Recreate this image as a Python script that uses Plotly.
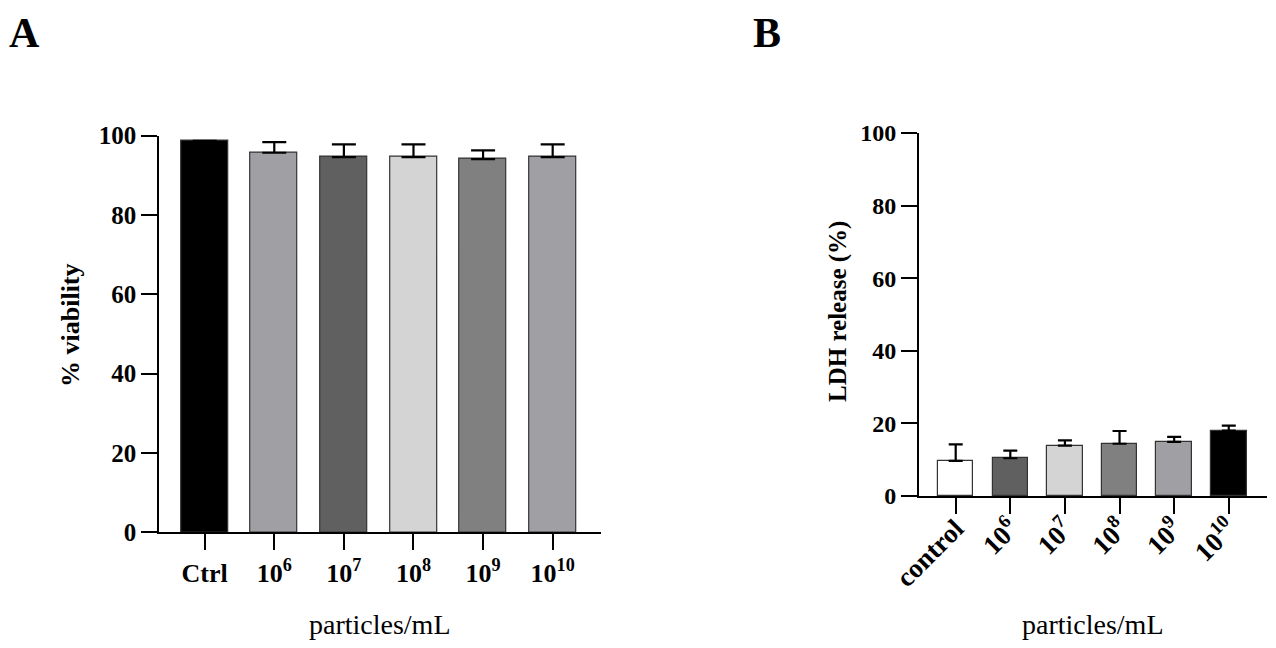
import plotly.graph_objects as go

# panel A: cell viability
categories_a = ["Ctrl", "10<sup>6</sup>", "10<sup>7</sup>", "10<sup>8</sup>", "10<sup>9</sup>", "10<sup>10</sup>"]
viability = [98.7, 95.7, 94.6, 94.6, 94.1, 94.6]
viability_err = [0, 2.7, 3.2, 3.2, 2.2, 3.2]
colors_a = ["#000000", "#a0a0a4", "#606060", "#d4d4d4", "#808080", "#a0a0a4"]

# panel B: LDH release
categories_b = ["control", "10<sup>6</sup>", "10<sup>7</sup>", "10<sup>8</sup>", "10<sup>9</sup>", "10<sup>10</sup>"]
ldh = [9.7, 10.4, 13.9, 14.4, 14.9, 18.0]
ldh_err = [4.5, 2.1, 1.4, 3.5, 1.4, 1.4]
colors_b = ["#ffffff", "#606060", "#d4d4d4", "#808080", "#a0a0a4", "#000000"]

SERIF = "Liberation Serif"
# the page body has an 8px margin, so the figure is a bit smaller than the window
OFF = 8
W, H = 1276 - 2 * OFF, 648 - 2 * OFF

def px_x(v):
    return (v - OFF) / W

def px_y(v):
    return 1 - (v - OFF) / H

fig = go.Figure()

fig.add_trace(go.Bar(
    x=categories_a, y=viability, xaxis="x", yaxis="y",
    width=0.675,
    marker=dict(color=colors_a, line=dict(color="#333333", width=1.2)),
    error_y=dict(type="data", array=viability_err, arrayminus=[0] * 6,
                 symmetric=False, color="black", thickness=2.2, width=12),
    showlegend=False,
))

fig.add_trace(go.Bar(
    x=categories_b, y=ldh, xaxis="x2", yaxis="y2",
    width=0.65,
    marker=dict(color=colors_b, line=dict(color="#333333", width=1.2)),
    error_y=dict(type="data", array=ldh_err, arrayminus=[0] * 6,
                 symmetric=False, color="black", thickness=2.2, width=7),
    showlegend=False,
))

axis_common = dict(
    showline=True, linecolor="black", linewidth=2,
    ticks="outside", ticklen=16, tickwidth=2, tickcolor="black",
    showgrid=False, zeroline=False, automargin=False,
)

fig.update_layout(
    template="none",
    width=W, height=H,
    margin=dict(l=0, r=0, t=0, b=0, pad=0, autoexpand=False),
    plot_bgcolor="white", paper_bgcolor="white",
    bargap=0,
    xaxis=dict(
        **axis_common,
        domain=[px_x(159.3), px_x(600.7)],
        anchor="y", type="category",
        range=[-0.652, 5.69],
        tickfont=dict(family=SERIF, size=26, color="black", weight="bold"),
    ),
    yaxis=dict(
        **axis_common,
        domain=[px_y(532.3), px_y(135.7)],
        anchor="x",
        range=[0, 100], tickvals=[0, 20, 40, 60, 80, 100],
        tickfont=dict(family=SERIF, size=25, color="black", weight="bold"),
    ),
    xaxis2=dict(
        **axis_common,
        domain=[px_x(919), px_x(1267)],
        anchor="y2", type="category",
        range=[-0.672, 5.70],
        tickangle=-45,
        ticklabelstandoff=-12,
        tickfont=dict(family=SERIF, size=27, color="black", weight="bold"),
    ),
    yaxis2=dict(
        **axis_common,
        domain=[px_y(496), px_y(133)],
        anchor="x2",
        range=[0, 100], tickvals=[0, 20, 40, 60, 80, 100],
        tickfont=dict(family=SERIF, size=24, color="black", weight="bold"),
    ),
)

annotations = [
    # panel letters
    dict(text="A", x=px_x(24), y=1, yanchor="top", font=dict(size=42, weight="bold")),
    dict(text="B", x=px_x(767), y=1, yanchor="top", font=dict(size=42, weight="bold")),
    # axis titles
    dict(text="particles/mL", x=px_x(380), y=px_y(624), font=dict(size=28)),
    dict(text="particles/mL", x=px_x(1093), y=px_y(624), font=dict(size=28)),
    dict(text="% viability", x=px_x(70), y=px_y(325), textangle=-90,
         font=dict(size=26, weight="bold")),
    dict(text="LDH release (%)", x=px_x(838), y=px_y(312), textangle=-90,
         font=dict(size=25, weight="bold")),
]
for a in annotations:
    a["font"].update(family=SERIF, color="black")
    a.setdefault("yanchor", "middle")
    fig.add_annotation(xref="paper", yref="paper", showarrow=False,
                       xanchor="center", **a)

fig.write_html("out.html")
